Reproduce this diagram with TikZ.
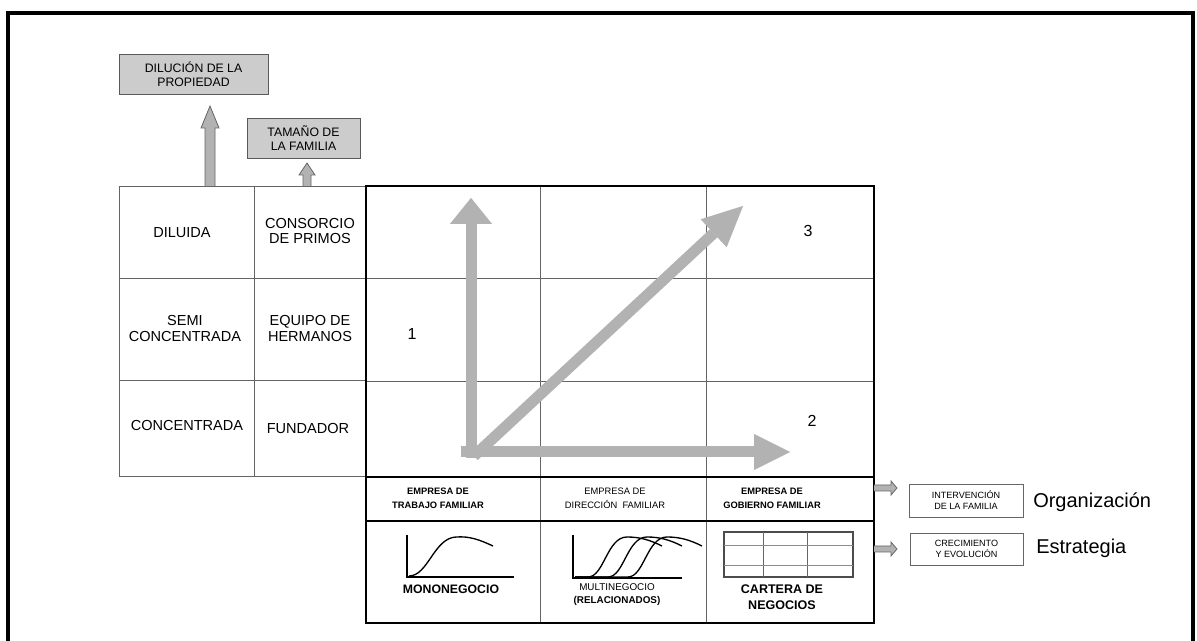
\documentclass[tikz,border=0pt]{standalone}
\usepackage{fontspec}
\setmainfont{Liberation Sans}
\usetikzlibrary{arrows.meta}
\definecolor{arrgray}{RGB}{178,178,178}
\definecolor{boxgray}{RGB}{204,204,204}
\definecolor{linegray}{RGB}{100,100,100}
\tikzset{
  frame/.style={line width=2.4pt},
  gridthin/.style={draw=linegray, line width=0.6pt},
  gridbold/.style={draw=black, line width=1.2pt},
  graybox/.style={draw=black!65, fill=boxgray, line width=0.7pt, align=center,
     font=\fontsize{9.2}{10.5}\selectfont, inner sep=0pt},
  whitebox/.style={draw=black!60, line width=0.6pt, align=center,
     font=\fontsize{6.8}{8.3}\selectfont, inner sep=0pt},
  blockarr/.style={draw=black!60, fill=arrgray, line width=0.6pt},
  bigarrow/.style={draw=arrgray, line width=8.25pt},
  cell/.style={font=\fontsize{10.9}{12}\selectfont, align=center, inner sep=0pt},
  num/.style={font=\fontsize{12}{14}\selectfont, inner sep=0pt},
  hdrb/.style={font=\bfseries\fontsize{7}{10.5}\selectfont, align=center, inner sep=0pt},
  hdr/.style={font=\fontsize{7}{10.5}\selectfont, align=center, inner sep=0pt},
  lab/.style={font=\bfseries\fontsize{9.2}{12}\selectfont, align=center, inner sep=0pt},
  side/.style={font=\fontsize{15}{18}\selectfont, anchor=west, inner sep=0pt},
  chart/.style={draw=black, line width=1.1pt},
  curve/.style={draw=black, line width=1pt},
}
\begin{document}
\begin{tikzpicture}[x=0.75pt,y=-0.75pt]
\useasboundingbox (0,0) rectangle (1197,641);
\clip (0,0) rectangle (1197,641);
% outer frame
\draw[frame] (8,660) -- (8,13) -- (1193,13) -- (1193,660);

% left grid
\draw[gridthin] (119,186) rectangle (366,476);
\draw[gridthin] (254,186) -- (254,476);
\draw[gridthin] (119,278) -- (366,278);
\draw[gridthin] (119,380) -- (366,380);

% main grid
\draw[gridthin] (540,186) -- (540,477);
\draw[gridthin] (706,186) -- (706,477);
\draw[gridthin] (366,278) -- (874,278);
\draw[gridthin] (366,381) -- (874,381);
\draw[gridbold] (366,186) rectangle (874,477);

% bottom table
\draw[gridthin] (540,477) -- (540,623);
\draw[gridthin] (706,477) -- (706,623);
\draw[gridbold] (366,521) -- (874,521);
\draw[gridbold] (366,477) rectangle (874,623);

% left grid texts
\node[cell] (diluida) at (182,233) {DILUIDA};
\node[cell] (consorcio) at (310,231) {CONSORCIO\\DE PRIMOS};
\node[cell] (semi) at (185,328) {SEMI\\CONCENTRADA};
\node[cell] (equipo) at (310,328) {EQUIPO DE\\HERMANOS};
\node[cell] (concentrada) at (187,425) {CONCENTRADA};
\node[cell] (fundador) at (308,428) {FUNDADOR};

% top gray boxes
\node[graybox, minimum width=111.75pt, minimum height=30pt] (dilucion) at (193.5,74) {DILUCIÓN DE LA\\PROPIEDAD};
\node[graybox, minimum width=84.75pt, minimum height=30pt] (tamano) at (303.5,138) {TAMAÑO DE\\LA FAMILIA};

% up block arrows
\draw[blockarr] (205,186) -- (205,128) -- (201,128) -- (210,106) -- (219,128) -- (215,128) -- (215,186);
\draw[blockarr] (303,186) -- (303,175) -- (299,175) -- (307,163) -- (315,175) -- (311,175) -- (311,186);

% big gray arrows
\draw[bigarrow, -{Triangle[length=19.5pt,width=31.5pt,line width=0.01pt]}] (471,458) -- (471,198);
\draw[bigarrow, -{Triangle[length=27pt,width=27pt,line width=0.01pt]}] (461,452) -- (790,452);
\draw[bigarrow, -{Triangle[length=30pt,width=28.5pt,line width=0.01pt]}] (474,456) -- (743,206);

% numbers
\node[num] (n1) at (412,334) {1};
\node[num] (n2) at (812,421) {2};
\node[num] (n3) at (808,231) {3};

% header row
\node[hdrb] (h1) at (438,498) {EMPRESA DE\\TRABAJO FAMILIAR};
\node[hdr] (h2) at (615,498) {EMPRESA DE\\DIRECCIÓN~~FAMILIAR};
\node[hdrb] (h3) at (772,498) {EMPRESA DE\\GOBIERNO FAMILIAR};

% mononegocio chart
\draw[chart] (407,535) -- (407,577) -- (514,577);
\draw[curve] (409,576) .. controls (428,576) and (434,538) .. (456,537)
   .. controls (470,536) and (480,540) .. (493,546);
\node[lab] (mono) at (451,589) {MONONEGOCIO};

% multinegocio chart
\draw[chart] (573,535) -- (573,578) -- (682,578);
\foreach \s in {0,20,40}{
  \draw[curve] (575,577) -- (588+\s,577) .. controls (604+\s,577) and (607+\s,537) .. (627+\s,537)
     .. controls (640+\s,537) and (650+\s,540) .. (662+\s,546);
}
\node[align=center, inner sep=0pt, font=\fontsize{7.4}{9.75}\selectfont] (multi) at (617,594.5)
   {MULTINEGOCIO\\\textbf{(RELACIONADOS)}};

% cartera grid
\draw[draw=black!70, line width=0.8pt] (724,532) rectangle (853,577);
\draw[draw=black!60, line width=0.6pt] (763,532) -- (763,577);
\draw[draw=black!60, line width=0.6pt] (807,532) -- (807,577);
\draw[draw=black!45, line width=0.6pt] (724,545) -- (853,545);
\draw[draw=black!45, line width=0.6pt] (724,565) -- (853,565);
\node[lab, font=\bfseries\fontsize{9.4}{12}\selectfont] (cartera) at (782,597) {CARTERA DE\\NEGOCIOS};

% right side boxes
\node[whitebox, minimum width=85.5pt, minimum height=24.75pt] (interv) at (966,500.5) {INTERVENCIÓN\\DE LA FAMILIA};
\node[whitebox, minimum width=84.75pt, minimum height=24pt] (crec) at (966.5,549) {CRECIMIENTO\\Y EVOLUCIÓN};
\node[side] (org) at (1033,502) {Organización};
\node[side] (estr) at (1036,548) {Estrategia};

% right block arrows
\draw[blockarr] (874,485) -- (891,485) -- (891,481) -- (897,488) -- (891,495) -- (891,491) -- (874,491);
\draw[blockarr] (874,546) -- (891,546) -- (891,542) -- (897,549) -- (891,556) -- (891,552) -- (874,552);
\end{tikzpicture}
\end{document}
